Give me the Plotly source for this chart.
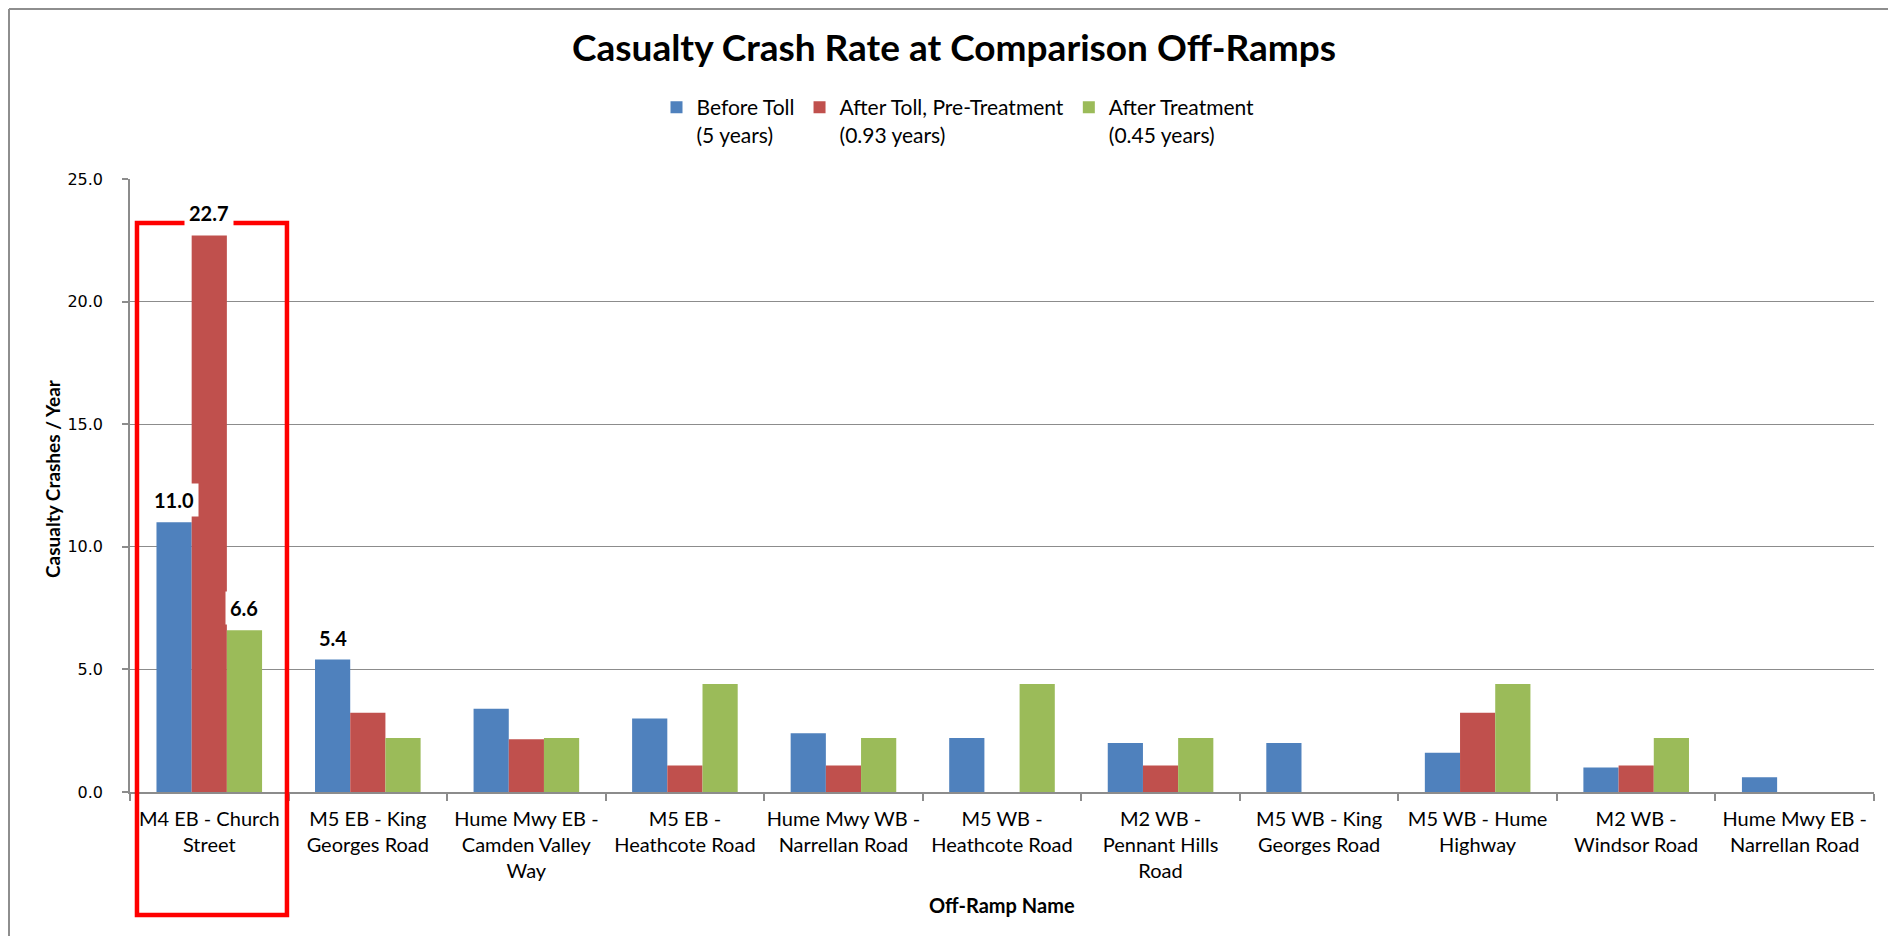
import plotly.graph_objects as go

# ---- data ----
categories = [
    "M4 EB - Church<br>Street",
    "M5 EB - King<br>Georges Road",
    "Hume Mwy EB -<br>Camden Valley<br>Way",
    "M5 EB -<br>Heathcote Road",
    "Hume Mwy WB -<br>Narrellan Road",
    "M5 WB -<br>Heathcote Road",
    "M2 WB -<br>Pennant Hills<br>Road",
    "M5 WB - King<br>Georges Road",
    "M5 WB - Hume<br>Highway",
    "M2 WB -<br>Windsor Road",
    "Hume Mwy EB -<br>Narrellan Road",
]
series_names = [
    "Before Toll<br>(5 years)",
    "After Toll, Pre-Treatment<br>(0.93 years)",
    "After Treatment<br>(0.45 years)",
]
before_toll = [11.0, 5.4, 3.4, 3.0, 2.4, 2.2, 2.0, 2.0, 1.6, 1.0, 0.6]
after_toll_pre = [22.7, 3.23, 2.15, 1.08, 1.08, 0, 1.08, 0, 3.23, 1.08, 0]
after_treatment = [6.6, 2.2, 2.2, 4.4, 2.2, 4.4, 2.2, 0, 4.4, 2.2, 0]
# (series index, category index) of the bars carrying a value label
labelled_bars = [(0, 0), (1, 0), (2, 0), (0, 1)]

y_ticks = [0, 5, 10, 15, 20, 25]

# ---- styling ----
colors = ["#4F81BD", "#C0504D", "#9BBB59"]
# page has an 8px body margin, so the figure is 16px smaller than the window
W, H = 1880, 928
ML, MR, MT, MB = 122, 14, 171, 144
BARGAP = 0.334
FONT = "Lato, Carlito, Calibri, sans-serif"

plot_w = W - ML - MR
plot_h = H - MT - MB


def px_x(x):
    return (x - ML) / plot_w


def px_y(y):
    return (H - MB - y) / plot_h


series_values = [before_toll, after_toll_pre, after_treatment]

fig = go.Figure()
for name, vals, col in zip(series_names, series_values, colors):
    fig.add_trace(go.Bar(
        x=categories, y=vals, name=name,
        marker=dict(color=col, line=dict(width=0)),
    ))

bar_px = plot_w / len(categories) * (1 - BARGAP) / len(series_values)

annotations = []
for s, c in labelled_bars:
    v = series_values[s][c]
    annotations.append(dict(
        x=categories[c], y=v, xref="x", yref="y",
        text=f"<b>{v:.1f}</b>", showarrow=False,
        xanchor="center", yanchor="bottom",
        xshift=(s - 1) * bar_px, yshift=5,
        bgcolor="white", borderpad=4,
        font=dict(family=FONT, size=20, color="black"),
    ))

# y-axis title
annotations.append(dict(
    x=px_x(44), y=px_y(471), xref="paper", yref="paper",
    text="<b>Casualty Crashes / Year</b>", textangle=-90,
    showarrow=False, xanchor="center", yanchor="middle",
    font=dict(family=FONT, size=19, color="black"),
))
# x-axis title
annotations.append(dict(
    x=0.5, y=px_y(897), xref="paper", yref="paper",
    text="<b>Off-Ramp Name</b>", showarrow=False,
    xanchor="center", yanchor="middle",
    font=dict(family=FONT, size=20, color="black"),
))

shapes = [
    # highlight box around the first category
    dict(type="rect", xref="x", yref="paper",
         x0=-0.456, x1=0.49, y0=px_y(907), y1=px_y(215),
         line=dict(color="#FF0000", width=4.5), layer="above"),
    # chart-area border (left and top edges visible)
    dict(type="line", xref="paper", yref="paper",
         x0=px_x(1), x1=px_x(W), y0=px_y(1), y1=px_y(1),
         line=dict(color="#8E8E8E", width=2)),
    dict(type="line", xref="paper", yref="paper",
         x0=px_x(1), x1=px_x(1), y0=px_y(1), y1=px_y(H),
         line=dict(color="#8E8E8E", width=2)),
]

fig.update_layout(
    width=W, height=H,
    margin=dict(l=ML, r=MR, t=MT, b=MB),
    paper_bgcolor="white", plot_bgcolor="white",
    barmode="group", bargap=BARGAP, bargroupgap=0,
    title=dict(
        text="<b>Casualty Crash Rate at Comparison Off-Ramps</b>",
        x=946 / W, xref="container", xanchor="center",
        y=1 - 40 / H, yref="container", yanchor="middle",
        font=dict(family=FONT, size=37, color="black"),
    ),
    legend=dict(
        orientation="h", x=950 / W, xref="container", xanchor="center",
        y=1 - 79 / H, yref="container", yanchor="top",
        valign="top", font=dict(family=FONT, size=21, color="black"),
        traceorder="normal", bgcolor="rgba(0,0,0,0)",
    ),
    xaxis=dict(
        showline=True, linecolor="#8C8C8C", linewidth=1.5,
        ticks="outside", tickson="boundaries", ticklen=7,
        tickcolor="#8C8C8C", tickwidth=1.5, tickangle=0,
        tickfont=dict(family=FONT, size=20, color="black"),
        ticklabelstandoff=8,
        showgrid=False,
    ),
    yaxis=dict(
        range=[0, 25], tickvals=y_ticks, tickformat=".1f",
        showline=True, linecolor="#8C8C8C", linewidth=1.5,
        ticks="outside", ticklen=6, tickcolor="#8C8C8C", tickwidth=1.5,
        showgrid=True, gridcolor="#8C8C8C", gridwidth=1.4,
        zeroline=False,
        tickfont=dict(family="DejaVu Sans, Verdana, sans-serif", size=16, color="black"),
        ticklabelstandoff=16,
    ),
    annotations=annotations,
    shapes=shapes,
    showlegend=True,
)

fig.write_html("out.html")
